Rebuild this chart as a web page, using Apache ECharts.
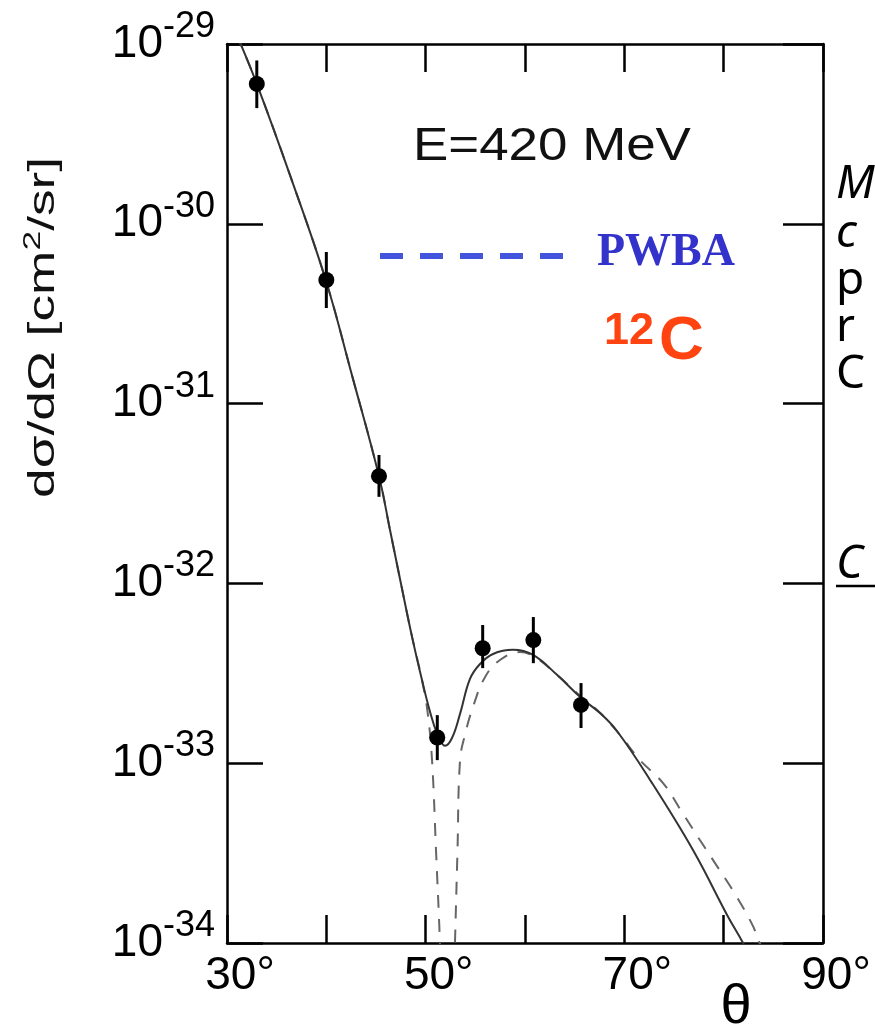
<!DOCTYPE html>
<html>
<head>
<meta charset="utf-8">
<script src="https://cdn.jsdelivr.net/npm/echarts@6/dist/echarts.min.js"></script>
<style>html,body{margin:0;padding:0;background:#fff;}#c{width:875px;height:1035px;}</style>
</head>
<body>
<div id="c"></div>
<script>
// ---- data ----
// full calculation (solid line)
const thetaSolid = [31.0, 33.0, 36.44, 39.97, 42.58, 45.30, 46.41, 47.52, 48.63, 49.63, 50.44, 51.14, 51.95, 52.65, 53.46, 54.46, 55.47, 56.78, 58.79, 60.81, 63.22, 65.64, 67.55, 69.26, 72.59, 76.91, 80.44, 81.95, 82.5];
const sigmaSolid = [1.12e-29, 6.0e-30, 1.80e-30, 4.81e-31, 1.44e-31, 3.95e-32, 1.98e-32, 9.93e-33, 5.04e-33, 2.90e-33, 1.93e-33, 1.47e-33, 1.25e-33, 1.38e-33, 1.88e-33, 2.94e-33, 3.56e-33, 4.05e-33, 4.27e-33, 4.00e-33, 3.10e-33, 2.31e-33, 1.90e-33, 1.51e-33, 8.07e-34, 3.29e-34, 1.40e-34, 1.0e-34, 8.5e-35];

// PWBA (dashed line)
const thetaPWBA = [31.0, 33.0, 36.44, 39.97, 42.58, 45.30, 46.41, 47.52, 48.63, 49.63, 50.2, 50.64, 51.04, 51.44, 51.6, 52.1, 52.8, 52.95, 53.2, 53.46, 53.96, 54.77, 55.97, 57.48, 59.5, 61.0, 63.22, 65.64, 67.55, 69.5, 71.58, 73.92, 75.78, 77.62, 79.46, 81.31, 82.99, 83.46, 84.0];
const sigmaPWBA = [1.12e-29, 6.0e-30, 1.80e-30, 4.81e-31, 1.44e-31, 3.95e-32, 1.98e-32, 9.93e-33, 5.04e-33, 2.90e-33, 1.91e-33, 1.04e-33, 3.29e-34, 1.0e-34, 5.0e-35, 1e-36, 5.0e-35, 1.0e-34, 3.2e-34, 1.04e-33, 1.44e-33, 2.06e-33, 3.01e-33, 3.75e-33, 4.15e-33, 3.89e-33, 3.10e-33, 2.34e-33, 1.91e-33, 1.45e-33, 1.04e-33, 7.73e-34, 5.37e-34, 3.73e-34, 2.61e-34, 1.81e-34, 1.23e-34, 1.04e-34, 9.3e-35];

// measurements with error bars
const thetaData = [33.0, 40.0, 45.3, 51.17, 55.74, 60.84, 65.64];
const sigmaData = [6.0e-30, 4.87e-31, 3.95e-32, 1.39e-33, 4.36e-33, 4.84e-33, 2.11e-33];
const errLow  = [4.4e-30, 3.40e-31, 3.03e-32, 1.04e-33, 3.38e-33, 3.6e-33, 1.57e-33];
const errHigh = [8.1e-30, 6.97e-31, 5.18e-32, 1.85e-33, 5.87e-33, 6.5e-33, 2.79e-33];

const xLabelValues = [30, 50, 70, 90];
const yExponents = [-34, -33, -32, -31, -30, -29];   // decades shown on the log axis

const lg = v => Math.log10(v);
const zip = (a, b) => a.map((v, i) => [v, lg(b[i])]);

const chart = echarts.init(document.getElementById('c'), null, {renderer: 'canvas'});
const F = '"Liberation Sans", Arial, sans-serif';
const axisLineStyle = {color: '#000', width: 2.5};
const tickStyle = {color: '#000', width: 2.5};
const yMin = yExponents[0], yMax = yExponents[yExponents.length - 1];

const option = {
  backgroundColor: '#fff',
  animation: false,
  grid: {left: 227, top: 44, right: 52, bottom: 92, containLabel: false},
  xAxis: [{
    type: 'value', min: 30, max: 90, interval: 10, position: 'bottom',
    axisLine: {show: true, lineStyle: axisLineStyle},
    axisTick: {show: true, inside: true, length: 28, lineStyle: tickStyle},
    splitLine: {show: false},
    axisLabel: {
      show: true, margin: 10, fontSize: 46, fontFamily: F, color: '#000',
      padding: [0, 0, 0, 26],
      formatter: v => xLabelValues.indexOf(v) >= 0 ? v + '°' : ''
    }
  }, {
    type: 'value', min: 30, max: 90, interval: 10, position: 'top',
    axisLine: {show: true, lineStyle: axisLineStyle},
    axisTick: {show: true, inside: true, length: 28, lineStyle: tickStyle},
    splitLine: {show: false}, axisLabel: {show: false}
  }],
  yAxis: [{
    type: 'value', min: yMin, max: yMax, interval: 1, position: 'left',
    axisLine: {show: true, lineStyle: axisLineStyle},
    axisTick: {show: true, inside: true, length: 36, lineStyle: tickStyle},
    splitLine: {show: false},
    axisLabel: {
      show: true, margin: 12, fontFamily: F, color: '#000',
      formatter: v => '{b|10}{s|' + Math.round(v) + '}',
      rich: {
        b: {fontSize: 46, fontFamily: F, color: '#000', verticalAlign: 'bottom', lineHeight: 46},
        s: {fontSize: 36, fontFamily: F, color: '#000', verticalAlign: 'bottom', lineHeight: 36, padding: [0, 0, 22, 0]}
      }
    }
  }, {
    type: 'value', min: yMin, max: yMax, interval: 1, position: 'right',
    axisLine: {show: true, lineStyle: axisLineStyle},
    axisTick: {show: true, inside: true, length: 40, lineStyle: tickStyle},
    splitLine: {show: false}, axisLabel: {show: false}
  }],
  series: [{
    name: 'PWBA', type: 'line', xAxisIndex: 0, yAxisIndex: 0,
    data: zip(thetaPWBA, sigmaPWBA), showSymbol: false, symbol: 'none',
    smooth: 0.4, clip: true,
    lineStyle: {color: '#666', width: 2, type: [13, 11]}, z: 3
  }, {
    name: 'DWBA', type: 'line', xAxisIndex: 0, yAxisIndex: 0,
    data: zip(thetaSolid, sigmaSolid), showSymbol: false, symbol: 'none',
    smooth: 0.4, clip: true,
    lineStyle: {color: '#333', width: 2}, z: 4
  }, {
    name: 'err', type: 'custom', xAxisIndex: 0, yAxisIndex: 0,
    data: thetaData.map((t, i) => [t, lg(errLow[i]), lg(errHigh[i])]),
    renderItem: (params, api) => {
      const a = api.coord([api.value(0), api.value(1)]);
      const b = api.coord([api.value(0), api.value(2)]);
      return {type: 'line', shape: {x1: a[0], y1: a[1], x2: b[0], y2: b[1]}, style: {stroke: '#000', lineWidth: 3}};
    }, z: 5
  }, {
    name: 'data', type: 'scatter', xAxisIndex: 0, yAxisIndex: 0,
    data: zip(thetaData, sigmaData), symbol: 'circle', symbolSize: 16,
    itemStyle: {color: '#000', opacity: 1}, z: 6
  }],
  graphic: [
    {type: 'text', x: 413, y: 124, scaleX: 1.15, style: {text: 'E=420 MeV', font: '46px ' + F, fill: '#111', textAlign: 'left', textVerticalAlign: 'top'}},
    {type: 'line', shape: {x1: 380, y1: 256, x2: 567, y2: 256}, style: {stroke: '#4455dd', lineWidth: 6, lineDash: [23, 17]}},
    {type: 'text', x: 597, y: 230, style: {text: 'PWBA', font: 'bold 46px "Liberation Serif", "Times New Roman", serif', fill: '#3333cc', textAlign: 'left', textVerticalAlign: 'top'}},
    {type: 'text', x: 604, y: 309, style: {text: '12', font: 'bold 45px ' + F, fill: '#ff4411', textAlign: 'left', textVerticalAlign: 'top'}},
    {type: 'text', x: 659, y: 311, style: {text: 'C', font: 'bold 62px ' + F, fill: '#ff4411', textAlign: 'left', textVerticalAlign: 'top'}},
    {type: 'text', x: 736, y: 1008, style: {text: 'θ', font: '56px ' + F, fill: '#000', textAlign: 'center', textVerticalAlign: 'middle'}},
    {type: 'text', rotation: Math.PI / 2, x: 26, y: 498, scaleX: 1.48,
      style: {text: '{a|dσ/dΩ [cm}{s|2}{a|/sr]}', rich: {a: {fontSize: 36, fontFamily: F, fill: '#111', verticalAlign: 'bottom', lineHeight: 36}, s: {fontSize: 24, fontFamily: F, fill: '#111', verticalAlign: 'bottom', lineHeight: 24, padding: [0, 0, 17, 0]}}, textAlign: 'left', textVerticalAlign: 'top'}},
    {type: 'text', x: 836, y: 162, style: {text: 'M', font: 'italic 46px "Noto Sans", sans-serif', fill: '#000', textAlign: 'left', textVerticalAlign: 'top'}},
    {type: 'text', x: 836, y: 211, style: {text: 'c', font: 'italic 46px "Noto Sans", sans-serif', fill: '#000', textAlign: 'left', textVerticalAlign: 'top'}},
    {type: 'text', x: 836, y: 258, style: {text: 'p', font: '46px "Noto Sans", sans-serif', fill: '#000', textAlign: 'left', textVerticalAlign: 'top'}},
    {type: 'text', x: 836, y: 305, style: {text: 'r', font: '46px "Noto Sans", sans-serif', fill: '#000', textAlign: 'left', textVerticalAlign: 'top'}},
    {type: 'text', x: 836, y: 352, style: {text: 'C', font: '46px "Noto Sans", sans-serif', fill: '#000', textAlign: 'left', textVerticalAlign: 'top'}},
    {type: 'text', x: 836, y: 542, style: {text: 'C', font: 'italic 46px "Noto Sans", sans-serif', fill: '#000', textAlign: 'left', textVerticalAlign: 'top'}},
    {type: 'line', shape: {x1: 836, y1: 586, x2: 875, y2: 586}, style: {stroke: '#000', lineWidth: 2.5}}
  ]
};
chart.setOption(option);
</script>
</body>
</html>
